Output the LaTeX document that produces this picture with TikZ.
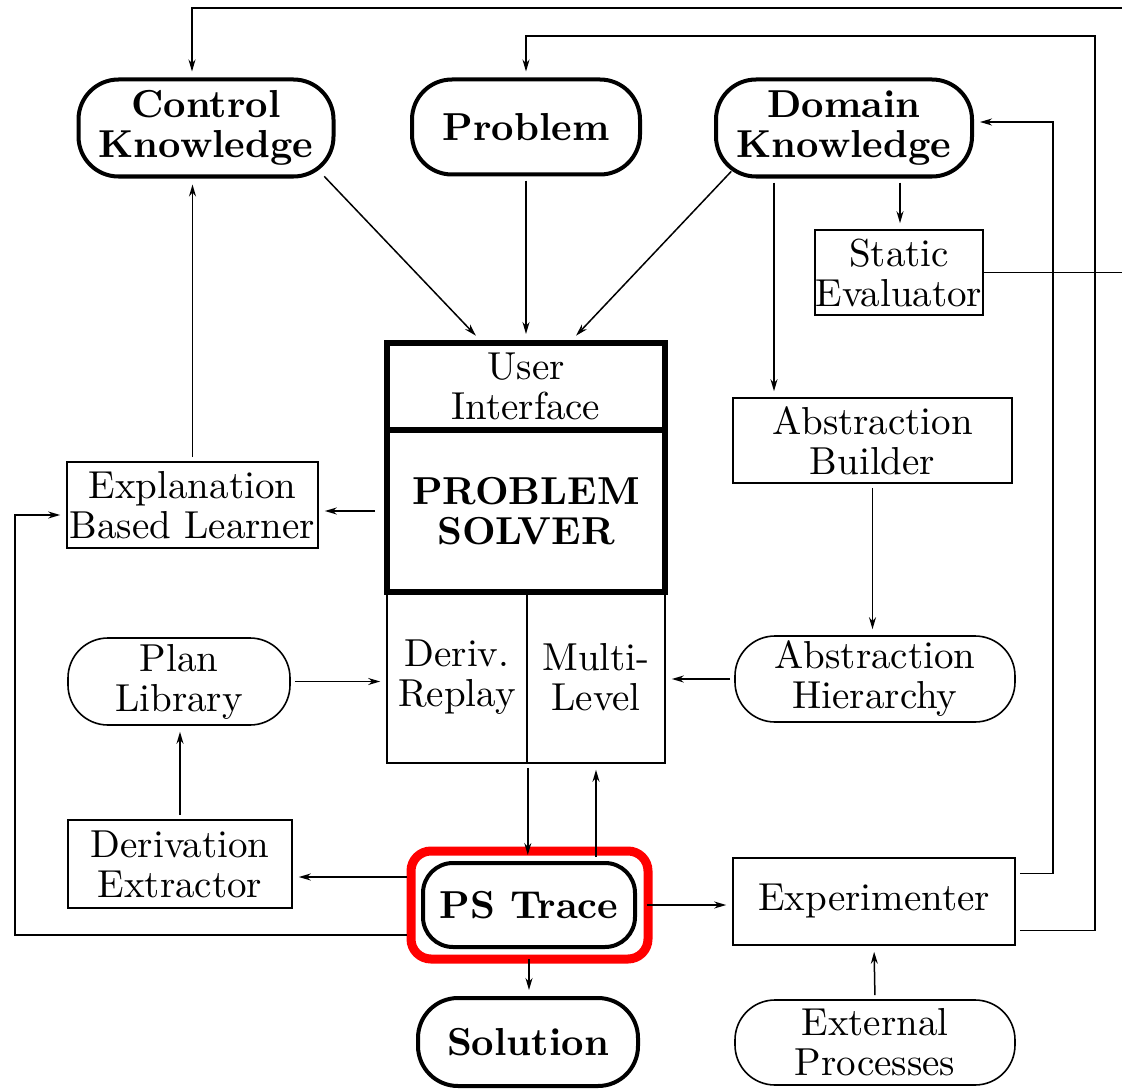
\documentclass[tikz,border=0pt]{standalone}
\usepackage{fontspec}
\setmainfont{lmroman10}[Extension=.otf, UprightFont=*-regular, BoldFont=*-bold, ItalicFont=*-italic]
\usetikzlibrary{arrows.meta,calc}
\begin{document}
\begin{tikzpicture}[x=1pt,y=-1pt,
  every node/.style={font=\fontsize{39}{40}\selectfont, align=center, inner sep=0pt},
  box/.style={draw, line width=1.6pt, minimum width=#1},
  store/.style={draw, line width=1.6pt, rounded corners=40pt, minimum width=#1},
  keynode/.style={draw, line width=4pt, rounded corners=40pt, minimum width=#1, font=\fontsize{39}{40}\selectfont\bfseries},
  core/.style={draw, line width=6pt, minimum width=278pt},
  conn/.style={line width=1.5pt, -{Stealth[length=12pt,width=7pt]}, shorten >=6pt, shorten <=4pt},
]
\useasboundingbox (0,0) rectangle (1122,1089);
\clip (0,0) rectangle (1122,1089);

% knowledge sources along the top
\node[keynode=255pt, minimum height=97pt] (ck) at (206,128) {Control\\Knowledge};
\node[keynode=228pt, minimum height=95pt] (prob) at (526,127) {Problem};
\node[keynode=256pt, minimum height=97pt] (dk) at (844,128) {Domain\\Knowledge};
\node[box=168pt, minimum height=85pt] (se) at (899,272.5) {Static\\Evaluator};

% the problem solver stack
\node[core, minimum height=87pt] (ui) at (526,386.5) {User\\Interface};
\node[core, minimum height=162pt, font=\fontsize{39}{40}\selectfont\bfseries] (ps) at (526,511) {PROBLEM\\SOLVER};
\node[box=140pt, minimum height=171pt] (dr) at (457,677.5) {Deriv.\\Replay};
\node[box=138pt, minimum height=171pt] (ml) at (596,677.5) {Multi-\\Level};

% learning and support modules
\node[box=279pt, minimum height=85pt] (ab) at (872.5,440.5) {Abstraction\\Builder};
\node[box=251pt, minimum height=86pt] (ebl) at (192.5,505) {Explanation\\Based Learner};
\node[store=222pt, minimum height=87pt] (pl) at (179,681.5) {Plan\\Library};
\node[store=280pt, minimum height=86pt] (ah) at (875,679) {Abstraction\\Hierarchy};
\node[box=224pt, minimum height=88pt] (de) at (180,864) {Derivation\\Extractor};
\node[keynode=212pt, minimum height=84pt, rounded corners=30pt] (pst) at (529,905) {PS Trace};
\node[box=282pt, minimum height=87pt] (exp) at (874,901.5) {Experimenter};
\node[keynode=220pt, minimum height=88pt] (sol) at (528,1042) {Solution};
\node[store=280pt, minimum height=85pt] (ext) at (875,1042.5) {External\\Processes};

% highlight around the trace
\draw[red, line width=9pt, rounded corners=20pt]
  ($(pst.north west)+(-10,-10)$) rectangle ($(pst.south east)+(11,10)$);

% routing points for the connectors
\coordinate (r0) at (1140,8);
\coordinate (r1) at (1053,122);
\coordinate (r2) at (1095,36);
\coordinate (l0) at (15,515);
\coordinate (d1) at ($(dk.south)+(56,0)$);
\coordinate (d2) at ($(dk.south)+(-70,0)$);
\coordinate (t1) at ($(pst.west)+(-14,-28)$);
\coordinate (t2) at ($(pst.west)+(-14,30)$);

% into the user interface
\draw[conn] ($(ck.south east)+(-14,-5)$) -- ($(ui.north)+(-46,0)$);
\draw[conn] (prob.south) -- (ui.north);
\draw[conn] ($(dk.south west)+(20,-10)$) -- ($(ui.north)+(46,0)$);

% domain knowledge consumers
\draw[conn] (d1) -- (d1 |- se.north);
\draw[conn] (d2) -- (d2 |- ab.north);
\draw[conn] (ab.south) -- (ab.south |- ah.north);
\draw[conn] (ah.west) -- (ah.west -| ml.east);
\draw[conn] (pl.east) -- (pl.east -| dr.west);

% learners
\draw[conn, shorten <=9pt] (ps.west) -- (ps.west -| ebl.east);
\draw[conn] (ebl.north) -- (ebl.north |- ck.south);
\draw[conn] (de.north) -- (de.north |- pl.south);

% solver and trace
\draw[conn] (dr.south east) -- (dr.south east |- pst.north);
\draw[conn] (pst.north -| ml.south) -- (ml.south);
\draw[conn, shorten <=0pt] (t1) -- (t1 -| de.east);
\draw[conn, shorten <=0pt] (t2) -| (l0) -- ($(ebl.west)+(0,10)$);
\draw[conn, shorten <=10pt] (pst.east) -- (pst.east -| exp.west);
\draw[conn, shorten <=10pt] (pst.south) -- (pst.south |- sol.north);
\draw[conn] (ext.north) -- (exp.south);

% feedback from the experimenter and the static evaluator
\draw[conn] ($(exp.east)+(0,-28)$) -| (r1) -- ($(dk.east)+(0,-6)$);
\draw[conn] ($(exp.east)+(0,29)$) -| (r2) -| (prob.north);
\draw[conn, shorten <=0pt] (se.east) -| (r0) -| ($(ck.north)+(-14,0)$);
\end{tikzpicture}
\end{document}
